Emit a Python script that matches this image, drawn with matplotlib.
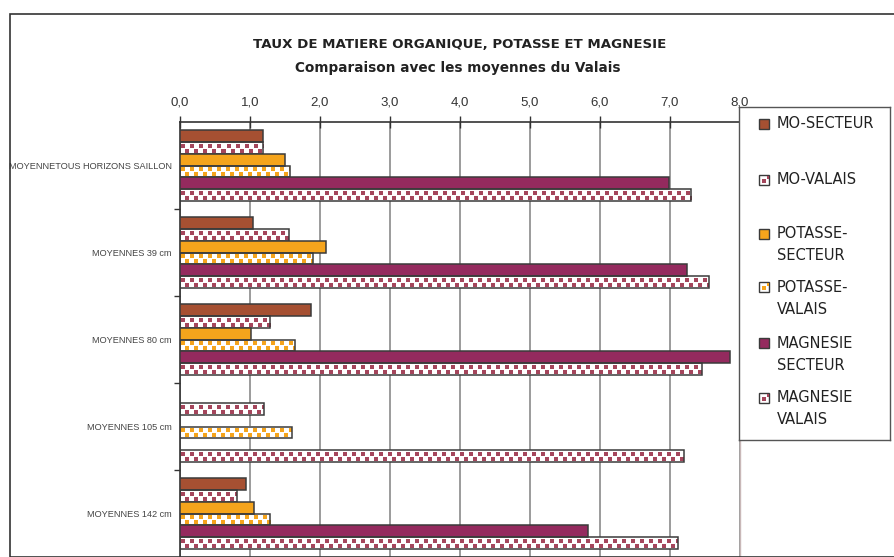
import numpy as np
import matplotlib
matplotlib.use("Agg")
import matplotlib.pyplot as plt
from matplotlib.patches import Rectangle
from matplotlib.ticker import FuncFormatter, FixedLocator

# Data
categories = ["MOYENNETOUS HORIZONS SAILLON", "MOYENNES 39 cm", "MOYENNES 80 cm",
              "MOYENNES 105 cm", "MOYENNES 142 cm"]
mo_secteur = [1.19, 1.05, 1.88, np.nan, 0.94]
mo_valais = [1.19, 1.56, 1.29, 1.20, 0.81]
potasse_secteur = [1.50, 2.09, 1.02, np.nan, 1.06]
potasse_valais = [1.57, 1.90, 1.64, 1.60, 1.29]
magnesie_secteur = [6.99, 7.25, 7.87, np.nan, 5.83]
magnesie_valais = [7.31, 7.56, 7.46, 7.20, 7.12]

series_labels = ["MO-SECTEUR", "MO-VALAIS", "POTASSE-\nSECTEUR", "POTASSE-\nVALAIS",
                 "MAGNESIE\nSECTEUR", "MAGNESIE\nVALAIS"]
series = [mo_secteur, mo_valais, potasse_secteur, potasse_valais,
          magnesie_secteur, magnesie_valais]
# (colour, patterned?)
styles = [("#A65032", False), ("#A5465C", True), ("#F5A41C", False),
          ("#F5A41C", True), ("#942A5E", False), ("#A5465C", True)]

EDGE = "#3a3a3a"


def dot_texture(nx, ny, color):
    # white background with two staggered rows of small squares
    rgb = np.array(matplotlib.colors.to_rgb(color))
    tile = np.ones((12, 9, 3))
    tile[2:6, 1:5] = rgb
    tile[7:11, 5:9] = rgb
    reps_y = int(np.ceil(ny / 12)) + 1
    reps_x = int(np.ceil(nx / 9)) + 1
    return np.tile(tile, (reps_y, reps_x, 1))[:max(ny, 1), :max(nx, 1)]


fig = plt.figure(figsize=(8.94, 5.57), dpi=100)
W, H = 894, 557

# outer chart border
fig.add_artist(Rectangle((10 / W, 0), 1.0, 1 - 14 / H, transform=fig.transFigure,
                         facecolor="none", edgecolor="#333333", lw=1.2))

fig.text(460 / W, 1 - 44 / H, "TAUX DE MATIERE ORGANIQUE, POTASSE ET MAGNESIE",
         ha="center", va="center", fontsize=9.6, fontweight="bold",
         family="DejaVu Sans", color="#222222")
fig.text(458 / W, 1 - 68 / H, "Comparaison avec les moyennes du Valais",
         ha="center", va="center", fontsize=9.8, fontweight="bold",
         family="DejaVu Sans", color="#222222")

ax = fig.add_axes([180 / W, 0.0, 559.5 / W, 435 / H])
ax.set_xlim(0, 8)
ax.set_ylim(len(categories) - 0.5, -0.5)

n = len(series)
bar_h = 0.135
y = np.arange(len(categories))

fig.canvas.draw()
for i, (vals, (color, patterned)) in enumerate(zip(series, styles)):
    yc = y + (i - (n - 1) / 2) * bar_h
    for yy, v in zip(yc, vals):
        if np.isnan(v):
            continue
        if patterned:
            p0 = ax.transData.transform((0, yy - bar_h / 2))
            p1 = ax.transData.transform((v, yy + bar_h / 2))
            nx = int(round(abs(p1[0] - p0[0])))
            ny = int(round(abs(p1[1] - p0[1])))
            ax.imshow(dot_texture(nx, ny, color), extent=(0, v, yy + bar_h / 2, yy - bar_h / 2),
                      origin="upper", aspect="auto", interpolation="nearest", zorder=2)
            ax.barh(yy, v, height=bar_h, facecolor="none", edgecolor=EDGE, lw=1.1, zorder=3)
        else:
            ax.barh(yy, v, height=bar_h, color=color, edgecolor=EDGE, lw=1.1, zorder=3)

ax.set_xlim(0, 8)
ax.set_ylim(len(categories) - 0.5, -0.5)

# x axis on top
ax.xaxis.set_major_locator(FixedLocator(np.arange(0, 9)))
ax.xaxis.set_major_formatter(FuncFormatter(lambda v, p: f"{v:.1f}".replace(".", ",")))
ax.xaxis.tick_top()
ax.tick_params(axis="x", direction="inout", length=8, width=1, color="#333333",
               pad=6, labelsize=9.5, labelcolor="#333333")
for lab in ax.get_xticklabels():
    lab.set_family("Liberation Sans")
ax.grid(axis="x", color="#8a8a8a", lw=1.2, zorder=0.5)
ax.set_axisbelow(True)

ax.set_yticks(y)
ax.set_yticklabels(categories, fontsize=6.6, color="#444444", family="Liberation Sans")
ax.set_yticks(np.arange(0.5, len(categories) - 0.5), minor=True)
ax.tick_params(axis="y", which="major", length=0, pad=6)
ax.tick_params(axis="y", which="minor", direction="out", length=4, width=1, color="#333333")

for side in ("left", "top"):
    ax.spines[side].set_color("#333333")
    ax.spines[side].set_linewidth(1.2)
for side in ("right", "bottom"):
    ax.spines[side].set_color("#c9b8b8")
    ax.spines[side].set_linewidth(1.0)

# legend box
lx0, ly0, lw_, lh_ = 739, 107, 151, 333
leg = fig.add_axes([lx0 / W, 1 - (ly0 + lh_) / H, lw_ / W, lh_ / H])
leg.set_xlim(0, lw_)
leg.set_ylim(lh_, 0)
leg.set_xticks([])
leg.set_yticks([])
for s in leg.spines.values():
    s.set_color("#555555")
    s.set_linewidth(1.0)

first_line = [17, 73, 127, 180, 236, 291]
for (label, (color, patterned), ty) in zip(series_labels, styles, first_line):
    if patterned:
        leg.add_patch(Rectangle((20, ty - 5), 10, 10, facecolor="white", edgecolor=EDGE, lw=1))
        leg.add_patch(Rectangle((22.5, ty - 1), 4, 4, facecolor=color, lw=0))
        leg.add_patch(Rectangle((27.5, ty - 4), 2.5, 3, facecolor=color, lw=0))
    else:
        leg.add_patch(Rectangle((20, ty - 5), 10, 10, facecolor=color, edgecolor=EDGE, lw=1))
    for k, line in enumerate(label.split("\n")):
        leg.text(38, ty + 22 * k, line, ha="left", va="center", fontsize=10.5,
                 family="DejaVu Sans", color="#222222")

fig.savefig("out.png", dpi=100)
